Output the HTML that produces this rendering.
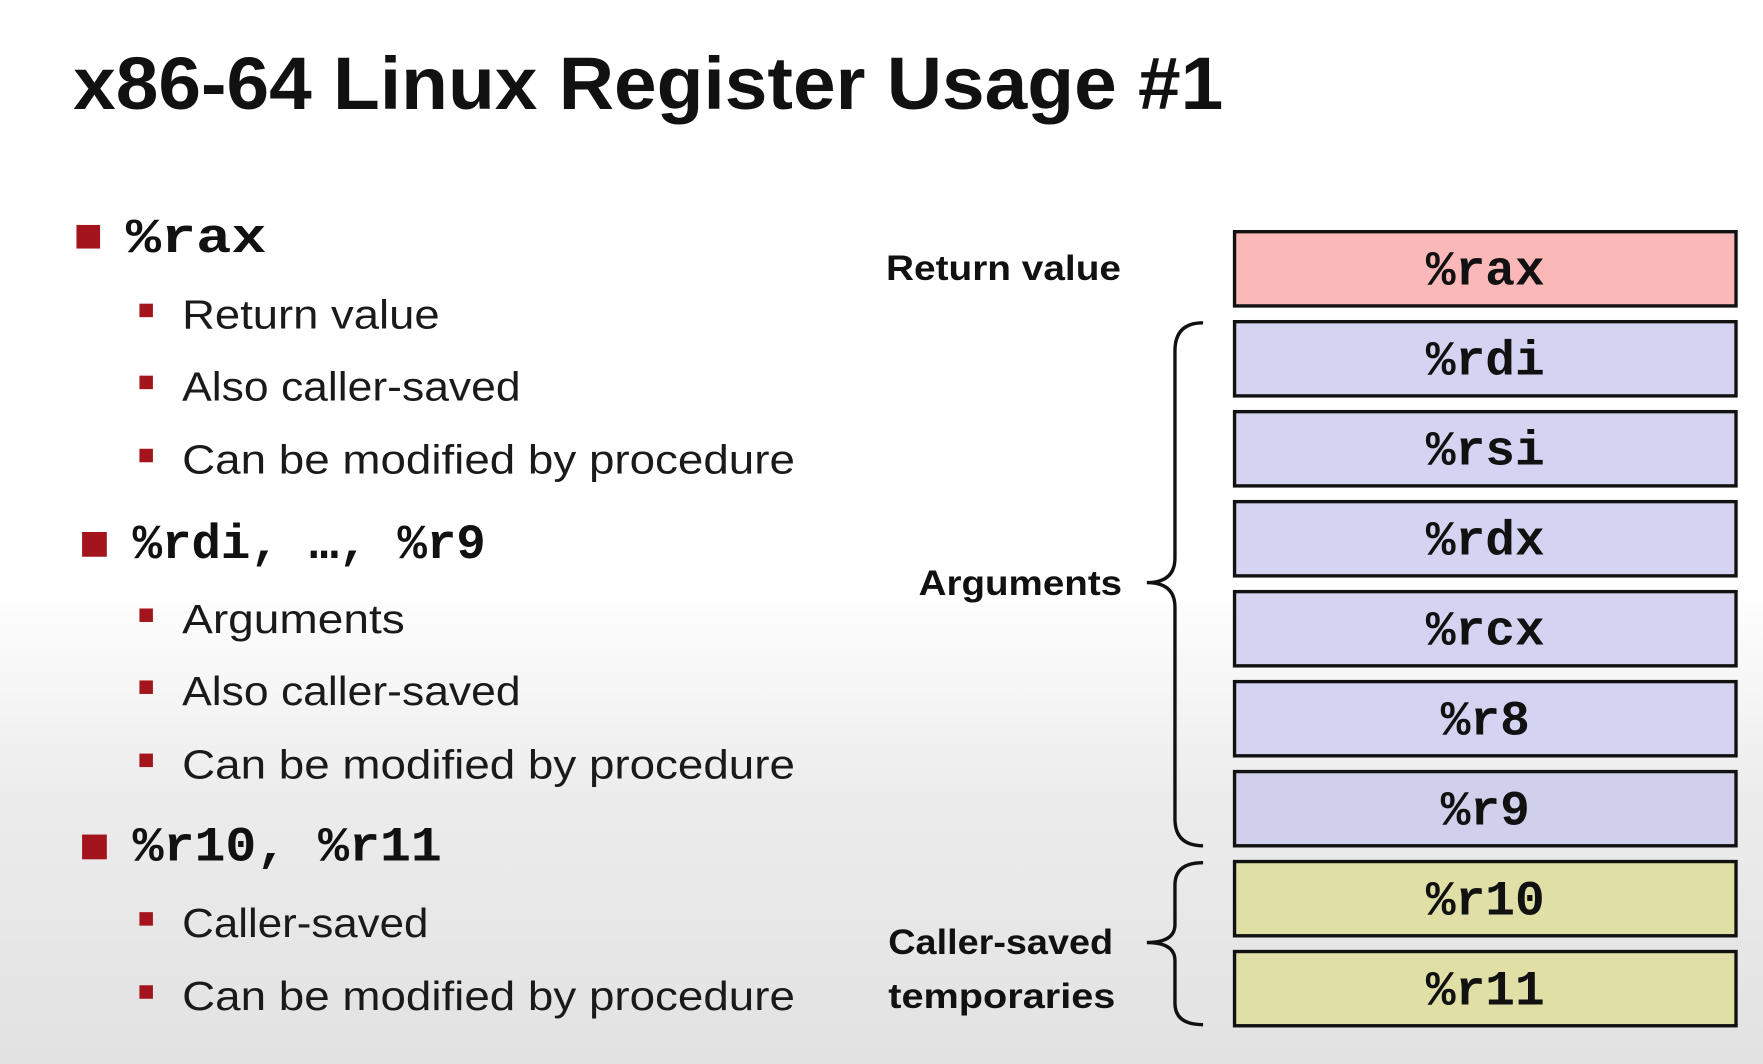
<!DOCTYPE html>
<html><head><meta charset="utf-8"><style>
html,body{margin:0;padding:0;width:1763px;height:1064px;overflow:hidden;}
body{background:linear-gradient(to bottom,#ffffff 0%,#ffffff 55%,#ececec 75%,#e2e2e2 100%);}
svg{display:block}
.t{font-family:"Liberation Sans",sans-serif;font-weight:bold;fill:#111}
.s{font-family:"Liberation Sans",sans-serif;fill:#1a1a1a}
.m{font-family:"Liberation Mono",monospace;font-weight:bold;fill:#111}
</style></head><body>
<svg width="1763" height="1064" viewBox="0 0 1568 946" preserveAspectRatio="none">
<text class="t" x="65" y="97" font-size="66" textLength="1023" lengthAdjust="spacingAndGlyphs">x86-64 Linux Register Usage #1</text>

<g fill="#a3141c">
<rect x="68" y="200" width="21" height="21"/>
<rect x="73" y="473" width="22" height="22"/>
<rect x="73" y="742" width="22" height="22"/>
<rect x="124" y="270" width="12" height="12"/>
<rect x="124" y="334" width="12" height="12"/>
<rect x="124" y="399" width="12" height="12"/>
<rect x="124" y="541" width="12" height="12"/>
<rect x="124" y="605" width="12" height="12"/>
<rect x="124" y="670" width="12" height="12"/>
<rect x="124" y="811" width="12" height="12"/>
<rect x="124" y="876" width="12" height="12"/>
</g>
<text class="m" x="112" y="224" font-size="44" textLength="125" lengthAdjust="spacingAndGlyphs">%rax</text>
<text class="m" x="118" y="496" font-size="44" textLength="314" lengthAdjust="spacingAndGlyphs">%rdi, …, %r9</text>
<text class="m" x="118" y="765" font-size="44" textLength="275" lengthAdjust="spacingAndGlyphs">%r10, %r11</text>

<g class="s" font-size="36">
<text x="162" y="292" textLength="229" lengthAdjust="spacingAndGlyphs">Return value</text>
<text x="162" y="356" textLength="301" lengthAdjust="spacingAndGlyphs">Also caller-saved</text>
<text x="162" y="421" textLength="545" lengthAdjust="spacingAndGlyphs">Can be modified by procedure</text>
<text x="162" y="563" textLength="198" lengthAdjust="spacingAndGlyphs">Arguments</text>
<text x="162" y="627" textLength="301" lengthAdjust="spacingAndGlyphs">Also caller-saved</text>
<text x="162" y="692" textLength="545" lengthAdjust="spacingAndGlyphs">Can be modified by procedure</text>
<text x="162" y="833" textLength="219" lengthAdjust="spacingAndGlyphs">Caller-saved</text>
<text x="162" y="898" textLength="545" lengthAdjust="spacingAndGlyphs">Can be modified by procedure</text>
</g>

<g class="t" font-size="31">
<text x="788" y="249" textLength="209" lengthAdjust="spacingAndGlyphs">Return value</text>
<text x="817" y="529" textLength="181" lengthAdjust="spacingAndGlyphs">Arguments</text>
<text x="790" y="848" textLength="200" lengthAdjust="spacingAndGlyphs">Caller-saved</text>
<text x="790" y="896" textLength="202" lengthAdjust="spacingAndGlyphs">temporaries</text>
</g>

<g stroke="#111" stroke-width="3">
<rect x="1098" y="206" width="446" height="66" fill="#fbb8b8"/>
<rect x="1098" y="286" width="446" height="66" fill="#d4d4f2"/>
<rect x="1098" y="366" width="446" height="66" fill="#d4d4f2"/>
<rect x="1098" y="446" width="446" height="66" fill="#d4d4f2"/>
<rect x="1098" y="526" width="446" height="66" fill="#d4d4f2"/>
<rect x="1098" y="606" width="446" height="66" fill="#d4d4f2"/>
<rect x="1098" y="686" width="446" height="66" fill="#d0d0ec"/>
<rect x="1098" y="766" width="446" height="66" fill="#e0e0a6"/>
<rect x="1098" y="846" width="446" height="66" fill="#e0e0a6"/>
</g>
<g class="m" font-size="44" text-anchor="middle">
<text x="1321" y="253">%rax</text>
<text x="1321" y="333">%rdi</text>
<text x="1321" y="413">%rsi</text>
<text x="1321" y="493">%rdx</text>
<text x="1321" y="573">%rcx</text>
<text x="1321" y="653">%r8</text>
<text x="1321" y="733">%r9</text>
<text x="1321" y="813">%r10</text>
<text x="1321" y="893">%r11</text>
</g>

<g fill="none" stroke="#111" stroke-width="3">
<path d="M1070,287 Q1045,287 1045,312 L1045,496 Q1045,518 1020,518 Q1045,518 1045,540 L1045,728 Q1045,752 1070,752"/>
<path d="M1070,767 Q1045,767 1045,787 L1045,822 Q1045,838 1020,838 Q1045,838 1045,854 L1045,892 Q1045,911 1070,911"/>
</g>
</svg>
</body></html>
